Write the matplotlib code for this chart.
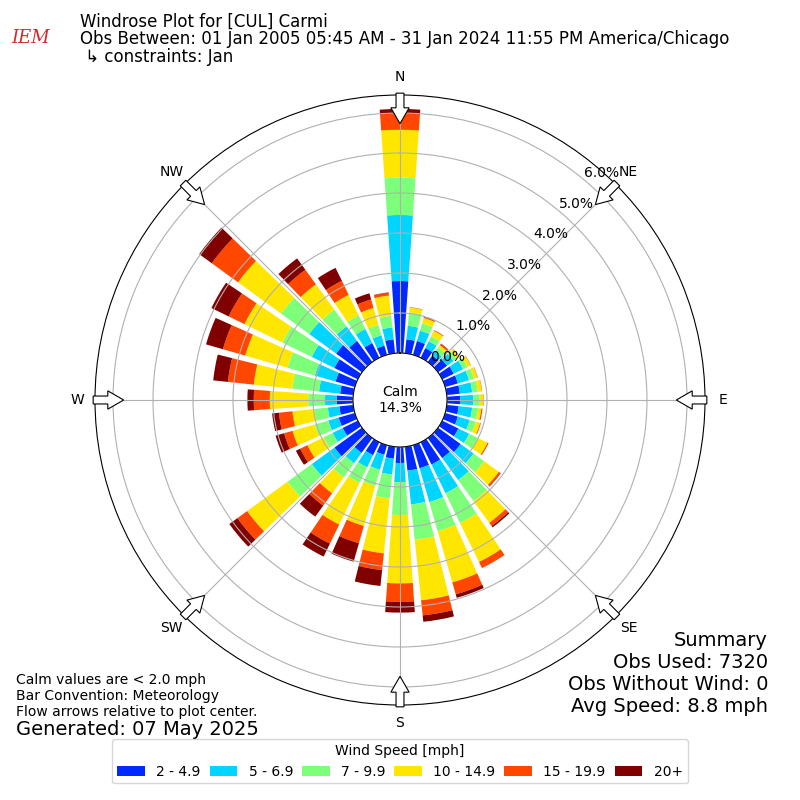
import numpy as np
import matplotlib
matplotlib.use('Agg')
import matplotlib.pyplot as plt
from matplotlib.patches import FancyArrow, Patch

# direction bins (degrees, meteorological) and speed bins
directions = np.arange(0, 360, 10)
speed_labels = ['2 - 4.9', '5 - 6.9', '7 - 9.9', '10 - 14.9', '15 - 19.9', '20+']

# percent of obs per direction for each speed bin
spd_2_5 = [1.80, 0.35, 0.36, 0.27, 0.20, 0.28, 0.32, 0.33, 0.33, 0.33, 0.30, 0.33,
           0.45, 0.70, 0.62, 0.62, 0.60, 0.60, 0.40, 0.30, 0.25, 0.36, 0.46, 0.85,
           0.42, 0.42, 0.35, 0.41, 0.33, 0.50, 0.65, 0.80, 0.65, 0.41, 0.24, 0.35]
spd_5_7 = [1.65, 0.34, 0.27, 0.19, 0.13, 0.20, 0.26, 0.29, 0.31, 0.33, 0.34, 0.31,
           0.30, 0.40, 0.68, 0.80, 0.88, 0.85, 0.48, 0.40, 0.39, 0.34, 0.32, 0.70,
           0.28, 0.27, 0.29, 0.29, 0.53, 0.54, 0.63, 0.83, 0.45, 0.39, 0.27, 0.30]
spd_7_10 = [0.93, 0.34, 0.19, 0.14, 0.12, 0.10, 0.12, 0.13, 0.14, 0.16, 0.15, 0.16,
            0.24, 0.33, 0.65, 0.83, 0.76, 0.89, 0.82, 0.60, 0.42, 0.43, 0.44, 0.75,
            0.25, 0.35, 0.34, 0.42, 0.67, 0.71, 0.82, 0.87, 0.52, 0.38, 0.27, 0.29]
spd_10_15 = [1.20, 0.12, 0.14, 0.15, 0.07, 0.08, 0.09, 0.09, 0.10, 0.09, 0.08, 0.11,
             0.27, 0.45, 0.67, 1.08, 1.33, 1.52, 1.71, 1.38, 1.04, 1.16, 0.49, 1.25,
             0.45, 0.58, 0.55, 0.96, 0.97, 1.10, 1.05, 1.33, 0.78, 0.57, 0.44, 0.51]
spd_15_20 = [0.41, 0.01, 0.02, 0.02, 0.04, 0.01, 0.01, 0.01, 0.01, 0.01, 0.03, 0.02,
             0.03, 0.05, 0.10, 0.17, 0.31, 0.38, 0.46, 0.42, 0.45, 0.53, 0.38, 0.30,
             0.20, 0.22, 0.34, 0.40, 0.65, 0.58, 0.44, 0.81, 0.45, 0.39, 0.22, 0.07]
spd_20p = [0.11, 0.00, 0.01, 0.00, 0.01, 0.00, 0.00, 0.00, 0.00, 0.00, 0.00, 0.00,
           0.00, 0.01, 0.04, 0.00, 0.09, 0.16, 0.27, 0.40, 0.48, 0.36, 0.34, 0.25,
           0.12, 0.22, 0.17, 0.16, 0.37, 0.44, 0.48, 0.39, 0.35, 0.36, 0.16, 0.01]

calm_pct = 14.3
rticks = [0, 1, 2, 3, 4, 5, 6]
compass = ['N', 'NE', 'E', 'SE', 'S', 'SW', 'W', 'NW']

series = [spd_2_5, spd_5_7, spd_7_10, spd_10_15, spd_15_20, spd_20p]
colors = plt.cm.jet(np.linspace(0, 1, 7))[1:]

fig = plt.figure(figsize=(8, 8), dpi=100)
ax = fig.add_axes([0.11875, 0.11875, 0.7625, 0.7625], projection='polar')
ax.set_theta_zero_location('N')
ax.set_theta_direction(-1)

theta = np.deg2rad(directions)
bottom = np.zeros(len(directions))
handles = []
for vals, c, lab in zip(series, colors, speed_labels):
    vals = np.array(vals)
    ax.bar(theta, vals, width=np.deg2rad(8), bottom=bottom, color=c, linewidth=0)
    bottom += vals
    handles.append(Patch(facecolor=c, label=lab))

ax.set_rorigin(-1.175)
ax.set_ylim(0, 6.45)
ax.set_rticks(rticks)
ax.set_yticklabels(['%.1f%%' % v for v in rticks], fontsize=10)
ax.set_rlabel_position(40)
ax.set_thetagrids(range(0, 360, 45), compass, fontsize=10)
ax.tick_params(axis='x', pad=2.5)
ax.grid(True, color='#b0b0b0', lw=0.8)

# flow arrows at the compass points
for a in range(0, 360, 45):
    s, c = np.sin(np.deg2rad(a)), np.cos(np.deg2rad(a))
    r0 = 0.503
    arr = FancyArrow(0.5 + r0 * s, 0.5 + r0 * c, -0.05 * s, -0.05 * c,
                     width=0.013, head_width=0.03, head_length=0.026,
                     length_includes_head=True, fc='white', ec='black', lw=0.8,
                     transform=ax.transAxes, clip_on=False, zorder=5)
    ax.add_patch(arr)

fig.text(0.5, 0.5, 'Calm\n%.1f%%' % calm_pct, ha='center', va='center', fontsize=10)

# header
fig.text(0.1, 0.9725, 'Windrose Plot for [CUL] Carmi', fontsize=12, va='center')
fig.text(0.1, 0.951, 'Obs Between: 01 Jan 2005 05:45 AM - 31 Jan 2024 11:55 PM America/Chicago',
         fontsize=12, va='center')
fig.text(0.1, 0.929, ' \u21b3 constraints: Jan', fontsize=12, va='center')
fig.text(0.038, 0.952, 'IEM', fontsize=13, color='#d42a2a', style='italic',
         family='DejaVu Serif', ha='center', va='center')

# footnotes
fig.text(0.02, 0.15, 'Calm values are < 2.0 mph', fontsize=10, va='center')
fig.text(0.02, 0.13, 'Bar Convention: Meteorology', fontsize=10, va='center')
fig.text(0.02, 0.11, 'Flow arrows relative to plot center.', fontsize=10, va='center')
fig.text(0.02, 0.0885, 'Generated: 07 May 2025', fontsize=14, va='center')

summary = ['Summary', 'Obs Used: 7320', 'Obs Without Wind: 0', 'Avg Speed: 8.8 mph']
for i, line in enumerate(summary):
    fig.text(0.96, 0.2 - i * 0.0275, line, fontsize=14, ha='right', va='center')

fig.legend(handles=handles, loc='lower center', bbox_to_anchor=(0.5, 0.012), ncol=6,
           title='Wind Speed [mph]', fontsize=10, title_fontsize=10,
           columnspacing=0.65, borderpad=0.35)

fig.savefig('out.png', dpi=100)
